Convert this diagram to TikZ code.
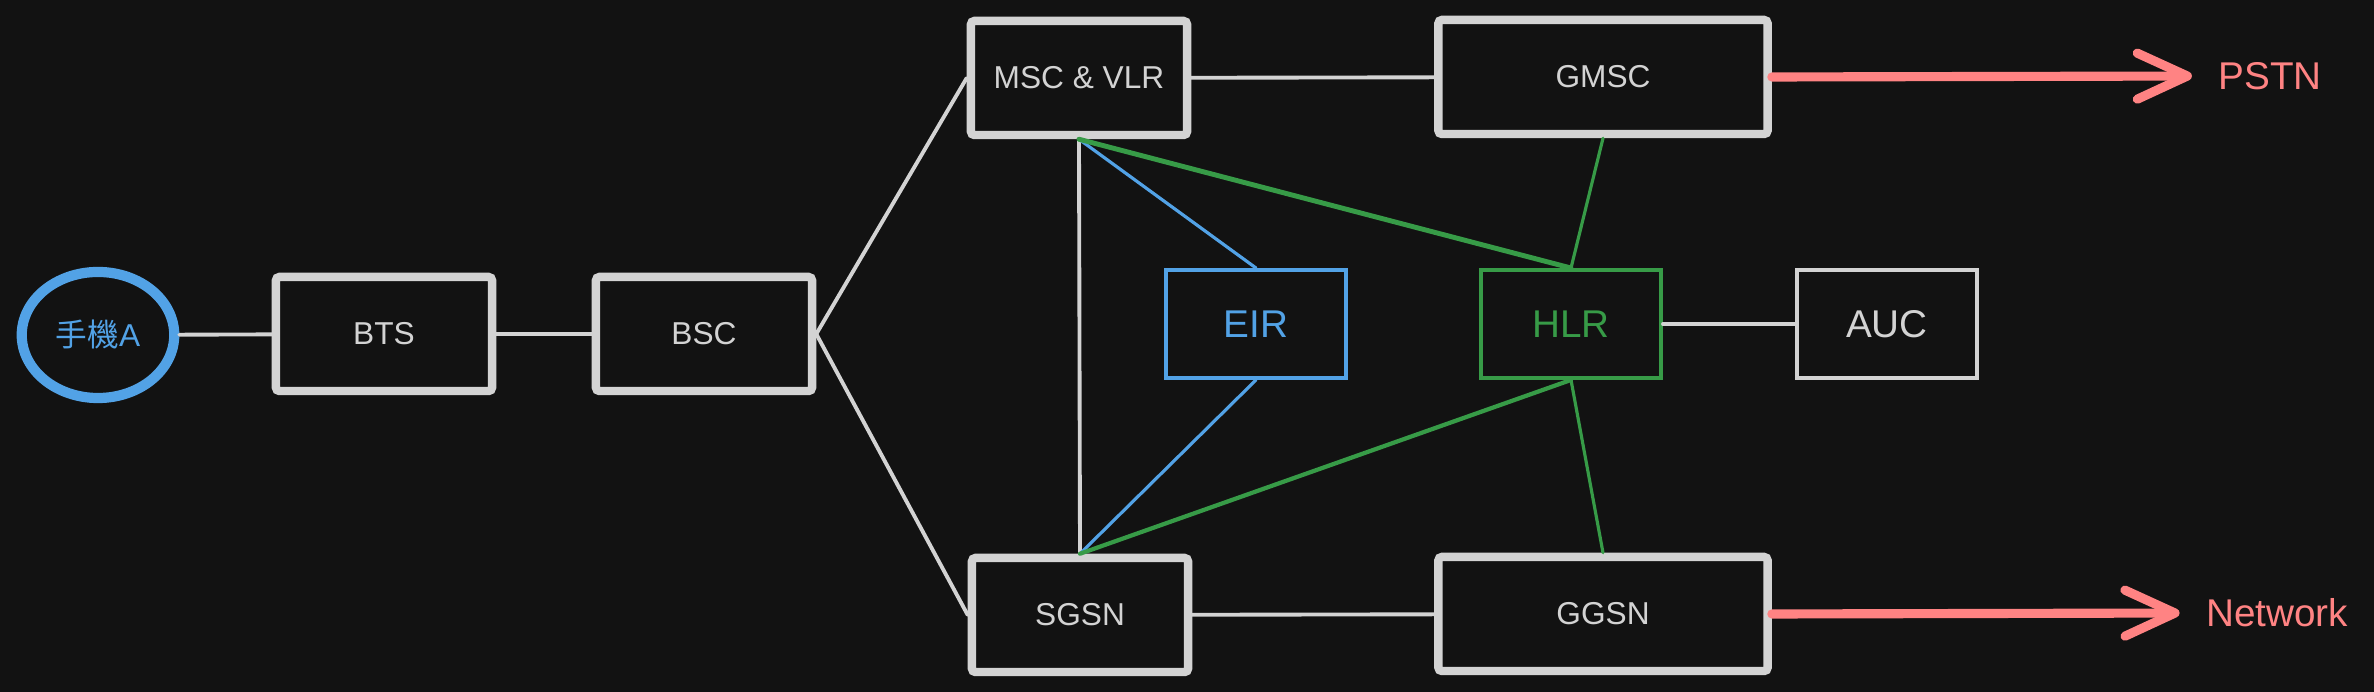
\documentclass[tikz,border=0pt]{standalone}
\usepackage{fontspec}
\setmainfont{Liberation Sans}
\newfontfamily\cjk{Noto Sans CJK TC}
\usetikzlibrary{positioning, arrows.meta, shapes.geometric}
\definecolor{bgdark}{HTML}{121212}
\definecolor{strokegrey}{HTML}{D3D3D3}
\definecolor{eirblue}{HTML}{52A2E6}
\definecolor{hlrgreen}{HTML}{379B47}
\definecolor{outred}{HTML}{FF8383}
\tikzset{
 block/.style = {
    rectangle, draw=strokegrey, line width=2.4pt,
    text=strokegrey, font=\fontsize{9}{11}\selectfont,
    minimum width=2.16cm, minimum height=1.14cm,
    rounded corners=1pt},
 wide block/.style = {
    block, minimum width=3.29cm},
 thin block/.style = {
    rectangle, draw=strokegrey, line width=1.1pt,
    text=strokegrey, font=\fontsize{11}{13}\selectfont,
    minimum width=1.8cm, minimum height=1.08cm},
 line/.style = {
    draw=strokegrey, line width=1.1pt, line cap=round},
 blue line/.style = {
    draw=eirblue, line width=0.9pt, line cap=round},
 green line/.style = {
    draw=hlrgreen, line width=0.9pt, line cap=round},
 out line/.style = {
    draw=outred, line width=2.6pt, line cap=round, shorten >=4pt,
    -{Straight Barb[length=0.5cm, width=0.46cm, round]}},
 out label/.style = {
    text=outred, font=\fontsize{11}{13}\selectfont},
}
\begin{document}
\begin{tikzpicture}[x=0.01cm, y=-0.01cm]
    \fill[bgdark] (0,0) rectangle (2374,692);

    % Place nodes
    \node [ellipse, draw=eirblue, line width=2.9pt, text=eirblue,
           minimum width=1.47cm, minimum height=1.26cm,
           font=\fontsize{9}{11}\selectfont] (phone) at (98,335) {{\cjk 手機}A};
    \node [block]              (bts)  at (384,334)  {BTS};
    \node [block]              (bsc)  at (704,334)  {BSC};
    \node [block]              (msc)  at (1079,78)  {MSC \& VLR};
    \node [wide block]         (gmsc) at (1603,77)  {GMSC};
    \node [block]              (sgsn) at (1080,615) {SGSN};
    \node [wide block]         (ggsn) at (1603,614) {GGSN};
    \node [thin block, draw=eirblue, text=eirblue]    (eir) at (1256,324) {EIR};
    \node [thin block, draw=hlrgreen, text=hlrgreen]  (hlr) at (1571,324) {HLR};
    \node [thin block]         (auc)  at (1887,324) {AUC};
    \node [out label]          (pstn) at (2270,76)  {PSTN};
    \node [out label]          (net)  at (2277,613) {Network};

    % Connectors
    \path [line] (phone) -- (bts);
    \path [line] (bts) -- (bsc);
    \path [line] (bsc.east) -- (msc.west);
    \path [line] (bsc.east) -- (sgsn.west);
    \path [line] (msc) -- (gmsc);
    \path [line] (sgsn) -- (ggsn);
    \path [line] (msc.south) -- (sgsn.north);
    \path [line] (hlr) -- (auc);

    \path [blue line] (msc.south) -- (eir.north);
    \path [blue line] (eir.south) -- (sgsn.north);

    \path [green line, line width=1.4pt] (msc.south) -- (hlr.north);
    \path [green line] (gmsc.south) -- (hlr.north);
    \path [green line, line width=1.2pt] (hlr.south) -- (sgsn.north);
    \path [green line] (hlr.south) -- (ggsn.north);

    \path [out line] (gmsc.east) -- (pstn.west);
    \path [out line] (ggsn.east) -- (net.west);
\end{tikzpicture}
\end{document}
